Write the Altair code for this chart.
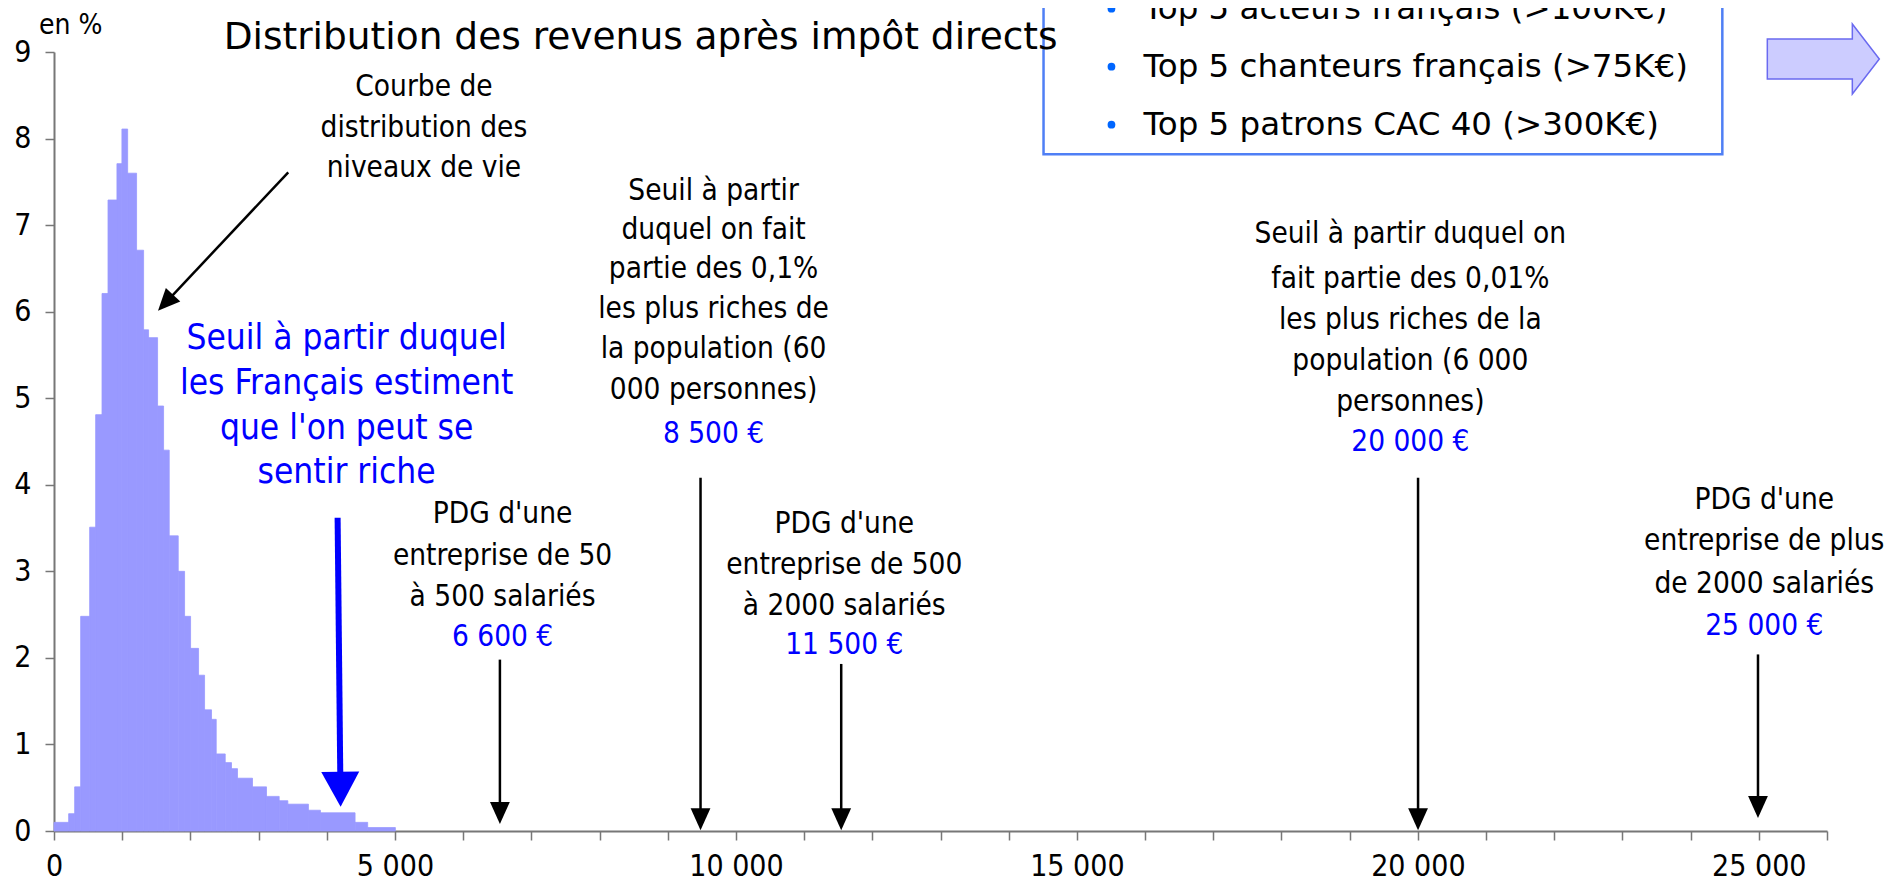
import math
import altair as alt
import pandas as pd

# ---------------- data ----------------
# histogram bins (euros) and share of population (%)
bin_start = [0, 215, 303, 391, 523, 611, 704, 792, 923, 996,
             1080, 1211, 1314, 1387, 1519, 1607, 1690, 1822, 1915, 2003,
             2120, 2208, 2310, 2379, 2511, 2603, 2691, 2911, 3116, 3302,
             3429, 3731, 3907, 4415, 4600]
bin_end = bin_start[1:] + [5006]
share_pct = [0.10, 0.20, 0.51, 2.48, 3.51, 4.81, 6.21, 7.29, 7.71, 8.11,
             7.60, 6.71, 5.79, 5.70, 4.91, 4.40, 3.41, 3.00, 2.48, 2.11,
             1.80, 1.40, 1.29, 0.89, 0.79, 0.72, 0.61, 0.51, 0.40, 0.35,
             0.31, 0.24, 0.21, 0.10, 0.04]

x_ticks = list(range(0, 26001, 1000))
y_ticks = list(range(0, 10))

title_text = "Distribution des revenus après impôt directs"
unit_text = "en %"

# annotation lines: text, x (euros), y (%), kind
note_text = [
    "Courbe de", "distribution des", "niveaux de vie",
    "Seuil à partir duquel", "les Français estiment", "que l'on peut se", "sentir riche",
    "Seuil à partir", "duquel on fait", "partie des 0,1%", "les plus riches de",
    "la population (60", "000 personnes)", "8 500 €",
    "PDG d'une", "entreprise de 50", "à 500 salariés", "6 600 €",
    "PDG d'une", "entreprise de 500", "à 2000 salariés", "11 500 €",
    "Seuil à partir duquel on", "fait partie des 0,01%", "les plus riches de la",
    "population (6 000", "personnes)", "20 000 €",
    "PDG d'une", "entreprise de plus", "de 2000 salariés", "25 000 €",
]
note_x = [5425, 5425, 5425,
          4291, 4291, 4291, 4291,
          9672, 9672, 9672, 9672, 9672, 9672, 9672,
          6578, 6578, 6578, 6578,
          11589, 11589, 11589, 11589,
          19890, 19890, 19890, 19890, 19890, 19890,
          25080, 25080, 25080, 25080]
note_y = [8.60, 8.12, 7.66,
          5.70, 5.18, 4.66, 4.15,
          7.39, 6.94, 6.49, 6.03, 5.57, 5.09, 4.59,
          3.66, 3.18, 2.70, 2.24,
          3.55, 3.07, 2.60, 2.15,
          6.90, 6.38, 5.90, 5.43, 4.96, 4.49,
          3.82, 3.35, 2.85, 2.37]
note_kind = ["black"] * 3 + ["bigblue"] * 4 + ["black"] * 6 + ["blue"] + \
            ["black"] * 3 + ["blue"] + ["black"] * 3 + ["blue"] + \
            ["black"] * 5 + ["blue"] + ["black"] * 3 + ["blue"]

# arrows: start and tip (euros, %)
arrow_x0 = [3435, 4159, 6539, 9481, 11544, 20003, 24988]
arrow_y0 = [7.61, 3.62, 1.98, 4.08, 1.93, 4.08, 2.04]
arrow_x1 = [1525, 4203, 6539, 9481, 11544, 20003, 24988]
arrow_y1 = [6.01, 0.28, 0.08, 0.01, 0.01, 0.01, 0.15]
arrow_kind = ["black", "blue", "black", "black", "black", "black", "black"]

# box listing examples (top right)
box_items = ["Top 5 acteurs français (>100K€)",
             "Top 5 chanteurs français (>75K€)",
             "Top 5 patrons CAC 40 (>300K€)"]
box_item_y = [9.50, 8.83, 8.16]
box_x = [14511, 24465]
box_y = [7.82, 10.6]
bullet_x = 15507
box_text_x = 15976
block_arrow_pos = (25946, 8.92)
title_pos = (2488, 9.16)
unit_pos = (245, 9.30)

# ---------------- layout ----------------
W, H = 1773, 779
XDOM, YDOM = [0, 26000], [0, 9]
KX, KY = W / XDOM[1], H / YDOM[1]
TAHOMA = "DejaVu Sans Condensed, Liberation Sans Narrow, Liberation Sans, sans-serif"
VERDANA = "DejaVu Sans, Verdana, sans-serif"
BLUE = "#0000FF"
AXC = "#777777"

xs = alt.Scale(domain=XDOM, nice=False, zero=False)
ys = alt.Scale(domain=YDOM, nice=False, zero=False)

x_axis = alt.Axis(
    values=x_ticks,
    labelExpr="datum.value % 5000 == 0 ? replace(format(datum.value, ','), ',', ' ') : ''",
    title=None, grid=False, tickSize=9, tickWidth=1.5, tickColor=AXC,
    domainColor=AXC, domainWidth=2, labelFont=TAHOMA, labelFontSize=30,
    labelColor="black", labelPadding=11, labelOverlap=False, labelFlush=False)
y_axis = alt.Axis(
    values=y_ticks, format="d", title=None, grid=False, tickSize=9,
    tickWidth=1.5, tickColor=AXC, domainColor=AXC, domainWidth=2,
    labelFont=TAHOMA, labelFontSize=30, labelColor="black", labelPadding=14)


def X(f):
    return alt.X(f, scale=xs, axis=x_axis)


def Y(f):
    return alt.Y(f, scale=ys, axis=y_axis)


hist = pd.DataFrame({"x0": bin_start, "x1": bin_end, "pct": share_pct, "zero": 0.0})

bars = alt.Chart(hist).mark_rect(color="#9999FF", stroke="#9999FF", strokeWidth=0.8).encode(
    x=X("x0:Q"), x2="x1:Q", y=Y("pct:Q"), y2="zero:Q")

# ---- box with examples
box_df = pd.DataFrame({"x0": [box_x[0]], "x1": [box_x[1]], "y0": [box_y[0]], "y1": [box_y[1]]})
box = alt.Chart(box_df).mark_rect(fill="white", stroke="#4F7FF5", strokeWidth=2.5, clip=False).encode(
    x=X("x0:Q"), x2="x1:Q", y=Y("y0:Q"), y2="y1:Q")

items_df = pd.DataFrame({"t": box_items, "y": box_item_y, "bx": bullet_x, "tx": box_text_x})
bullets = alt.Chart(items_df).mark_point(filled=True, shape="circle", size=60, color="#0066FF",
                                         opacity=1, clip=False).encode(x=X("bx:Q"), y=Y("y:Q"))
items = alt.Chart(items_df).mark_text(align="left", baseline="middle", font=VERDANA, fontSize=32.5,
                                      color="black", clip=False).encode(
    x=X("tx:Q"), y=Y("y:Q"), text="t:N")

# ---- big block arrow on the right
blk_df = pd.DataFrame({"x": [block_arrow_pos[0]], "y": [block_arrow_pos[1]]})
block_arrow = alt.Chart(blk_df).mark_point(
    shape="M-1,-0.357 L0.518,-0.357 L0.518,-0.625 L1,0 L0.518,0.625 L0.518,0.357 L-1,0.357 Z",
    size=112 * 112, filled=True, fill="#CCCCFF", stroke="#6A6AF0", strokeWidth=1.5,
    opacity=1, clip=False).encode(x=X("x:Q"), y=Y("y:Q"))

# ---- titles
tdf = pd.DataFrame({"x": [title_pos[0]], "y": [title_pos[1]], "t": [title_text]})
title = alt.Chart(tdf).mark_text(align="left", baseline="middle", font=VERDANA, fontSize=37.5,
                                 color="black", clip=False).encode(x=X("x:Q"), y=Y("y:Q"), text="t:N")
udf = pd.DataFrame({"x": [unit_pos[0]], "y": [unit_pos[1]], "t": [unit_text]})
unit = alt.Chart(udf).mark_text(align="center", baseline="middle", font=TAHOMA, fontSize=28,
                                color="black", clip=False).encode(x=X("x:Q"), y=Y("y:Q"), text="t:N")

# ---- annotation texts
notes = pd.DataFrame({"t": note_text, "x": note_x, "y": note_y, "k": note_kind})


def note_layer(kind, size, color):
    return alt.Chart(notes[notes.k == kind]).mark_text(
        align="center", baseline="middle", font=TAHOMA, fontSize=size, color=color, clip=False
    ).encode(x=X("x:Q"), y=Y("y:Q"), text="t:N")


txt_black = note_layer("black", 29.5, "black")
txt_blue = note_layer("blue", 29.5, BLUE)
txt_big = note_layer("bigblue", 35, BLUE)

# ---- arrows (shaft + head)
rows = []
for x0, y0, x1, y1, k in zip(arrow_x0, arrow_y0, arrow_x1, arrow_y1, arrow_kind):
    dx = (x1 - x0) * KX
    dy = -(y1 - y0) * KY
    L = math.hypot(dx, dy)
    head = 35 if k == "blue" else 22
    f = 1 - head * 0.7 / L
    ang = math.degrees(math.atan2(-dx, dy)) % 360
    rows.append({"x0": x0, "y0": y0, "xe": x0 + (x1 - x0) * f, "ye": y0 + (y1 - y0) * f,
                 "x1": x1, "y1": y1, "ang": ang, "k": k})
arr = pd.DataFrame(rows)

shaft_black = alt.Chart(arr[arr.k == "black"]).mark_rule(color="black", strokeWidth=2.5, clip=False).encode(
    x=X("x0:Q"), y=Y("y0:Q"), x2="xe:Q", y2="ye:Q")
shaft_blue = alt.Chart(arr[arr.k == "blue"]).mark_rule(color=BLUE, strokeWidth=6, clip=False).encode(
    x=X("x0:Q"), y=Y("y0:Q"), x2="xe:Q", y2="ye:Q")
head_black = alt.Chart(arr[arr.k == "black"]).mark_point(
    shape="M0,0 L-0.45,-1 L0.45,-1 Z", size=44 * 44, filled=True, color="black", opacity=1,
    strokeWidth=0, clip=False).encode(x=X("x1:Q"), y=Y("y1:Q"), angle=alt.Angle("ang:Q", scale=None))
head_blue = alt.Chart(arr[arr.k == "blue"]).mark_point(
    shape="M0,0 L-0.543,-1 L0.543,-1 Z", size=70 * 70, filled=True, color=BLUE, opacity=1,
    strokeWidth=0, clip=False).encode(x=X("x1:Q"), y=Y("y1:Q"), angle=alt.Angle("ang:Q", scale=None))

chart = alt.layer(
    bars, box, bullets, items, block_arrow, title, unit,
    txt_black, txt_blue, txt_big, shaft_black, shaft_blue, head_black, head_blue
).properties(
    width=W, height=H,
    padding={"left": 46, "top": 44, "right": 63, "bottom": 51},
    autosize=alt.AutoSizeParams(type="none"),
    background="white",
).configure_view(stroke=None)

chart.save("out.html", embed_options={"renderer": "svg", "actions": False})
